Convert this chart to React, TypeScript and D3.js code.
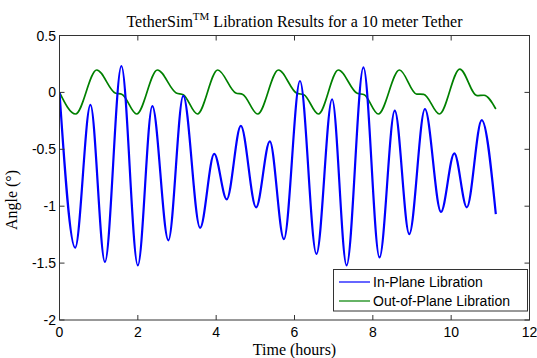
import React from "react";
import * as d3 from "d3";

const inPlaneTime = [0, 0.40, 0.79, 1.16, 1.58, 2.00, 2.37, 2.78, 3.16, 3.59, 3.95, 4.27, 4.63, 5.02, 5.37, 5.73, 6.14, 6.56, 6.96, 7.33, 7.76, 8.17, 8.56, 8.93, 9.33, 9.74, 10.08, 10.40, 10.78, 11.14];
const inPlaneAngle = [0, -1.365, -0.11, -1.49, 0.232, -1.52, -0.12, -1.30, -0.03, -1.19, -0.54, -0.94, -0.295, -1.01, -0.43, -1.29, 0.10, -1.42, -0.06, -1.52, 0.22, -1.45, -0.16, -1.245, -0.146, -1.05, -0.535, -1.01, -0.243, -1.07];

const outPlaneTime = [0, 0.41, 0.95, 1.42, 1.60, 1.97, 2.50, 2.98, 3.16, 3.52, 4.04, 4.50, 4.68, 5.06, 5.59, 6.06, 6.24, 6.61, 7.12, 7.60, 7.78, 8.14, 8.68, 9.12, 9.30, 9.70, 10.22, 10.66, 10.84, 11.14];
const outPlaneAngle = [0, -0.19, 0.197, -0.005, -0.018, -0.19, 0.197, -0.005, -0.02, -0.19, 0.197, -0.005, -0.018, -0.19, 0.197, -0.008, -0.02, -0.19, 0.197, -0.008, -0.02, -0.19, 0.197, -0.015, -0.017, -0.19, 0.205, -0.028, -0.025, -0.146];

const xTicks = [0, 2, 4, 6, 8, 10, 12];
const yTicks = [0.5, 0, -0.5, -1, -1.5, -2];
const seriesNames = ["In-Plane Libration", "Out-of-Plane Libration"];
const seriesColors = ["#0000ff", "#008000"];

const W = 537, H = 358;
const L = 59.5, R = 529.5, T = 35.5, B = 320;

export default function App() {
  const x = d3.scaleLinear().domain([0, 12]).range([L, R]);
  const y = d3.scaleLinear().domain([-2, 0.5]).range([B, T]);
  const line = d3.line<[number, number]>().x(d => x(d[0])).y(d => y(d[1])).curve(d3.curveMonotoneX);
  const inPts = inPlaneTime.map((t, i) => [t, inPlaneAngle[i]] as [number, number]);
  const outPts = outPlaneTime.map((t, i) => [t, outPlaneAngle[i]] as [number, number]);
  const axisColor = "#333";
  const tickFont = "Arial, 'Liberation Sans', sans-serif";
  const serif = "'Times New Roman', 'Liberation Serif', serif";
  const legX = 333.5, legY = 269.5, legW = 194, legH = 41.5;
  return (
    <div style={{ position: "fixed", left: 0, top: 0, width: W, height: H, background: "#fff" }}>
      <svg width={W} height={H} style={{ display: "block" }}>
        <rect x={0} y={0} width={W} height={H} fill="#fff" />
        <defs>
          <clipPath id="plot"><rect x={L} y={T} width={R - L} height={B - T} /></clipPath>
        </defs>
        <g clipPath="url(#plot)">
          <path d={line(outPts) || ""} fill="none" stroke={seriesColors[1]} strokeWidth={1.7} />
          <path d={line(inPts) || ""} fill="none" stroke={seriesColors[0]} strokeWidth={2.2} />
        </g>
        <rect x={L} y={T} width={R - L} height={B - T} fill="none" stroke={axisColor} strokeWidth={1} />
        {xTicks.map(t => (
          <g key={"x" + t}>
            <line x1={x(t)} x2={x(t)} y1={B} y2={B - 5} stroke={axisColor} />
            <line x1={x(t)} x2={x(t)} y1={T} y2={T + 5} stroke={axisColor} />
            <text x={x(t)} y={337} textAnchor="middle" fontFamily={tickFont} fontSize={14} fill="#000">{t}</text>
          </g>
        ))}
        {yTicks.map(t => (
          <g key={"y" + t}>
            <line x1={L} x2={L + 5} y1={y(t)} y2={y(t)} stroke={axisColor} />
            <line x1={R} x2={R - 5} y1={y(t)} y2={y(t)} stroke={axisColor} />
            <text x={56} y={y(t) + 5} textAnchor="end" fontFamily={tickFont} fontSize={14} fill="#000">{t}</text>
          </g>
        ))}
        <text x={(L + R) / 2} y={27} textAnchor="middle" fontFamily={serif} fontSize={16} fill="#000">
          TetherSim<tspan dy={-7} fontSize={11}>TM</tspan><tspan dy={7} fontSize={16}> Libration Results for a 10 meter Tether</tspan>
        </text>
        <text x={(L + R) / 2} y={355} textAnchor="middle" fontFamily={serif} fontSize={16} fill="#000">Time (hours)</text>
        <text transform={`translate(17,200) rotate(-90)`} textAnchor="middle" fontFamily={serif} fontSize={16} fill="#000">Angle (°)</text>
        <rect x={legX} y={legY} width={legW} height={legH} fill="#fff" stroke={axisColor} strokeWidth={1} />
        {seriesNames.map((n, i) => (
          <g key={n}>
            <line x1={339} x2={370} y1={282 + i * 19} y2={282 + i * 19} stroke={seriesColors[i]} strokeWidth={1.2} />
            <text x={373} y={282 + i * 19 + 5} fontFamily={tickFont} fontSize={14} fill="#000">{n}</text>
          </g>
        ))}
      </svg>
    </div>
  );
}
